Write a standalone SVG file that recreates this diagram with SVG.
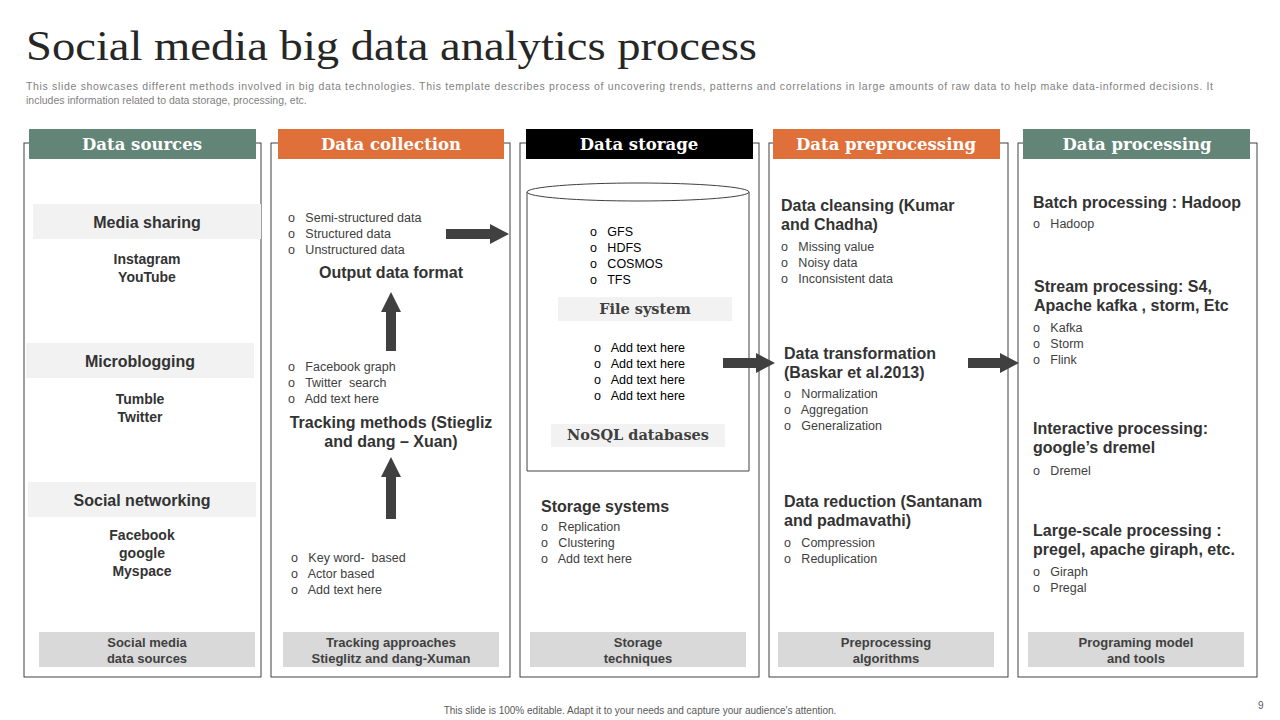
<svg xmlns="http://www.w3.org/2000/svg" width="1280" height="720" viewBox="0 0 1280 720">
<defs>
<style>
.col{fill:#fff;stroke:#404040;stroke-width:1}
.hd{font-family:"DejaVu Serif",serif;font-weight:bold;font-size:16.5px;fill:#fff;text-anchor:middle}
.s{font-family:"Liberation Sans",sans-serif;font-size:12.5px;fill:#404040;white-space:pre}
.b{font-family:"Liberation Sans",sans-serif;font-size:16px;font-weight:bold;fill:#333}
.bc{font-family:"Liberation Sans",sans-serif;font-size:14px;font-weight:bold;fill:#333;text-anchor:middle}
.ft{font-family:"Liberation Sans",sans-serif;font-size:13px;font-weight:bold;fill:#404040;text-anchor:middle}
.lb{fill:#f2f2f2}
.fb{fill:#d9d9d9}
.sv{font-family:"DejaVu Serif",serif;font-weight:bold;font-size:14.5px;fill:#404040;text-anchor:middle}
.arr{fill:#404040}
</style>
</defs>
<rect width="1280" height="720" fill="#fff"/>
<text x="26" y="60" font-family="Liberation Serif,serif" font-size="42" fill="#262626" textLength="731" lengthAdjust="spacingAndGlyphs">Social media big data analytics process</text>
<text font-family="Liberation Sans,sans-serif" font-size="10.5" fill="#7f7f7f"><tspan x="26" y="90" textLength="1187" lengthAdjust="spacing">This slide showcases different methods involved in big data technologies. This template describes process of uncovering trends, patterns and correlations in large amounts of raw data to  help make data-informed decisions. It</tspan><tspan x="26" y="104">includes information related to data storage, processing, etc.</tspan></text>

<g id="col1">
<rect class="col" x="24" y="143" width="237" height="534"/>
<rect x="29" y="129" width="227" height="30" fill="#628577"/>
<text class="hd" x="142" y="150">Data sources</text>
<rect class="lb" x="33" y="204" width="228" height="35"/>
<text class="b" x="147" y="228" text-anchor="middle">Media sharing</text>
<text class="bc" x="147" y="264">Instagram</text><text class="bc" x="147" y="282">YouTube</text>
<rect class="lb" x="26" y="343" width="228" height="35"/>
<text class="b" x="140" y="367" text-anchor="middle">Microblogging</text>
<text class="bc" x="140" y="404">Tumble</text><text class="bc" x="140" y="422">Twitter</text>
<rect class="lb" x="28" y="482" width="228" height="35"/>
<text class="b" x="142" y="506" text-anchor="middle">Social networking</text>
<text class="bc" x="142" y="540">Facebook</text><text class="bc" x="142" y="558">google</text><text class="bc" x="142" y="576">Myspace</text>
<rect class="fb" x="39" y="632" width="216" height="35"/>
<text class="ft" x="147" y="647">Social media</text><text class="ft" x="147" y="663">data sources</text>
</g>

<g id="col2">
<rect class="col" x="271" y="143" width="239" height="534"/>
<rect x="278" y="129" width="226" height="30" fill="#e0703a"/>
<text class="hd" x="391" y="150">Data collection</text>
<text class="s"><tspan x="288" y="222">o   Semi-structured data</tspan><tspan x="288" y="238">o   Structured data</tspan><tspan x="288" y="254">o   Unstructured data</tspan></text>
<text class="b" x="391" y="278" text-anchor="middle">Output data format</text>
<text class="s"><tspan x="288" y="371">o   Facebook graph</tspan><tspan x="288" y="387">o   Twitter  search</tspan><tspan x="288" y="403">o   Add text here</tspan></text>
<text class="b" x="391" y="428" text-anchor="middle">Tracking methods (Stiegliz</text>
<text class="b" x="391" y="447" text-anchor="middle">and dang – Xuan)</text>
<text class="s"><tspan x="291" y="562">o   Key word-  based</tspan><tspan x="291" y="578">o   Actor based</tspan><tspan x="291" y="594">o   Add text here</tspan></text>
<rect class="fb" x="283" y="632" width="216" height="35"/>
<text class="ft" x="391" y="647">Tracking approaches</text><text class="ft" x="391" y="663">Stieglitz and dang-Xuman</text>
</g>

<g id="col3">
<rect class="col" x="520" y="143" width="239" height="534"/>
<rect x="526" y="129" width="227" height="30" fill="#000"/>
<text class="hd" x="639" y="150">Data storage</text>
<path d="M527 192 V471 H749 V192" fill="none" stroke="#404040"/>
<ellipse cx="638" cy="192" rx="111" ry="9" fill="#fff" stroke="#404040"/>
<text class="s" style="fill:#000"><tspan x="590" y="236">o   GFS</tspan><tspan x="590" y="252">o   HDFS</tspan><tspan x="590" y="268">o   COSMOS</tspan><tspan x="590" y="284">o   TFS</tspan></text>
<rect class="lb" x="558" y="297" width="174" height="24"/>
<text class="sv" x="645" y="314">File system</text>
<text class="s" style="fill:#000"><tspan x="594" y="352">o   Add text here</tspan><tspan x="594" y="368">o   Add text here</tspan><tspan x="594" y="384">o   Add text here</tspan><tspan x="594" y="400">o   Add text here</tspan></text>
<rect class="lb" x="551" y="424" width="174" height="23"/>
<text class="sv" x="638" y="440">NoSQL databases</text>
<text class="b" x="541" y="512">Storage systems</text>
<text class="s"><tspan x="541" y="531">o   Replication</tspan><tspan x="541" y="547">o   Clustering</tspan><tspan x="541" y="563">o   Add text here</tspan></text>
<rect class="fb" x="530" y="632" width="216" height="35"/>
<text class="ft" x="638" y="647">Storage</text><text class="ft" x="638" y="663">techniques</text>
</g>

<g id="col4">
<rect class="col" x="769" y="143" width="239" height="534"/>
<rect x="773" y="129" width="227" height="30" fill="#e0703a"/>
<text class="hd" x="886" y="150">Data preprocessing</text>
<text class="b" x="781" y="211">Data cleansing (Kumar</text><text class="b" x="781" y="230">and Chadha)</text>
<text class="s"><tspan x="781" y="251">o   Missing value</tspan><tspan x="781" y="267">o   Noisy data</tspan><tspan x="781" y="283">o   Inconsistent data</tspan></text>
<text class="b" x="784" y="359">Data transformation</text><text class="b" x="784" y="378">(Baskar et al.2013)</text>
<text class="s"><tspan x="784" y="398">o   Normalization</tspan><tspan x="784" y="414">o   Aggregation</tspan><tspan x="784" y="430">o   Generalization</tspan></text>
<text class="b" x="784" y="507">Data reduction (Santanam</text><text class="b" x="784" y="526">and padmavathi)</text>
<text class="s"><tspan x="784" y="547">o   Compression</tspan><tspan x="784" y="563">o   Reduplication</tspan></text>
<rect class="fb" x="778" y="632" width="216" height="35"/>
<text class="ft" x="886" y="647">Preprocessing</text><text class="ft" x="886" y="663">algorithms</text>
</g>

<g id="col5">
<rect class="col" x="1018" y="143" width="239" height="534"/>
<rect x="1023" y="129" width="227" height="30" fill="#628577"/>
<text class="hd" x="1137" y="150">Data processing</text>
<text class="b" x="1033" y="208">Batch processing : Hadoop</text>
<text class="s"><tspan x="1033" y="228">o   Hadoop</tspan></text>
<text class="b" x="1034" y="292">Stream processing: S4,</text><text class="b" x="1034" y="311">Apache kafka , storm, Etc</text>
<text class="s"><tspan x="1033" y="332">o   Kafka</tspan><tspan x="1033" y="348">o   Storm</tspan><tspan x="1033" y="364">o   Flink</tspan></text>
<text class="b" x="1033" y="434">Interactive processing:</text><text class="b" x="1033" y="453">google’s dremel</text>
<text class="s"><tspan x="1033" y="475">o   Dremel</tspan></text>
<text class="b" x="1033" y="536">Large-scale processing :</text><text class="b" x="1033" y="555">pregel, apache giraph, etc.</text>
<text class="s"><tspan x="1033" y="576">o   Giraph</tspan><tspan x="1033" y="592">o   Pregal</tspan></text>
<rect class="fb" x="1028" y="632" width="216" height="35"/>
<text class="ft" x="1136" y="647">Programing model</text><text class="ft" x="1136" y="663">and tools</text>
</g>

<g id="connectors">
<path class="arr" d="M446 229 H490 V224 L509 234 L490 244 V239 H446 Z"/>
<path class="arr" d="M723 358 H756 V353 L775 363 L756 373 V368 H723 Z"/>
<path class="arr" d="M968 358 H1000 V353 L1019 363 L1000 373 V368 H968 Z"/>
<path class="arr" d="M386 351 V312 H381 L391 292 L401 312 H396 V351 Z"/>
<path class="arr" d="M386 519 V477 H381 L391 457 L401 477 H396 V519 Z"/>
</g>

<text x="640" y="714" font-family="Liberation Sans,sans-serif" font-size="10" fill="#595959" text-anchor="middle">This slide is 100% editable. Adapt it to your needs and capture your audience's attention.</text>
<text x="1258" y="709" font-family="Liberation Sans,sans-serif" font-size="10" fill="#595959">9</text>
</svg>
